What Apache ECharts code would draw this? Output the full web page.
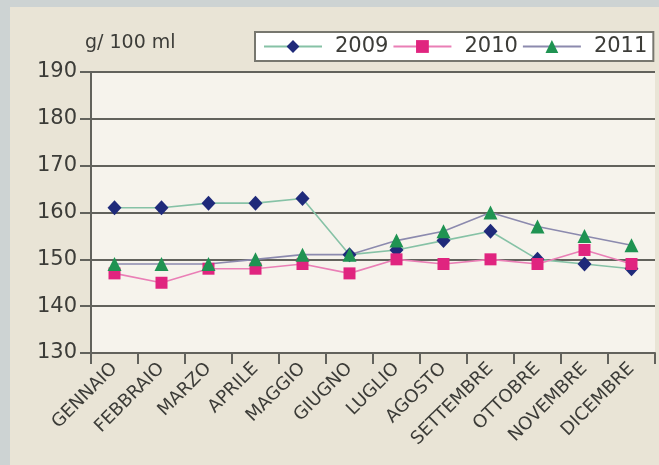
<!DOCTYPE html>
<html>
<head>
<meta charset="utf-8">
<script src="https://cdn.jsdelivr.net/npm/echarts@6/dist/echarts.min.js"></script>
<style>
  html, body { margin: 0; padding: 0; background: #cdd3d3; }
  #chart { width: 659px; height: 465px; }
</style>
</head>
<body>
<div id="chart"></div>
<script>
// Monthly values, g/100 ml
const months = ['GENNAIO', 'FEBBRAIO', 'MARZO', 'APRILE', 'MAGGIO', 'GIUGNO',
  'LUGLIO', 'AGOSTO', 'SETTEMBRE', 'OTTOBRE', 'NOVEMBRE', 'DICEMBRE'];
const values2009 = [161, 161, 162, 162, 163, 151, 152, 154, 156, 150, 149, 148];
const values2010 = [147, 145, 148, 148, 149, 147, 150, 149, 150, 149, 152, 149];
const values2011 = [149, 149, 149, 150, 151, 151, 154, 156, 160, 157, 155, 153];
const yMin = 130, yMax = 190, yStep = 10;
const unitLabel = 'g/ 100 ml';

const chart = echarts.init(document.getElementById('chart'));
const axisGrey = '#62625c';
const textGrey = '#3c3c38';
const font = 'DejaVu Sans';

function lineSeries(name, data, lineColor, symbol, symbolSize, markerColor) {
  return {
    name: name,
    type: 'line',
    data: data,
    symbol: symbol,
    symbolSize: symbolSize,
    lineStyle: { color: lineColor, width: 1.6 },
    itemStyle: { color: markerColor, borderWidth: 0 },
    emphasis: { disabled: true },
    animation: false
  };
}

chart.setOption({
  backgroundColor: '#cdd3d3',
  animation: false,
  graphic: [{
    type: 'rect',
    left: 10, top: 7,
    shape: { width: 660, height: 470 },
    style: { fill: '#e9e4d6' },
    z: -10
  }, {
    type: 'text',
    left: 85, top: 34,
    style: { text: unitLabel, font: '19px "DejaVu Sans"', fill: textGrey }
  }],
  grid: {
    left: 91, right: 4, top: 72, bottom: 112,
    show: true, backgroundColor: '#f6f3ec', borderWidth: 0
  },
  legend: {
    left: 255, top: 32,
    padding: [4, 6, 4, 8],
    itemGap: 4,
    itemWidth: 58,
    itemHeight: 16,
    backgroundColor: '#ffffff',
    borderColor: '#77776f',
    borderWidth: 2,
    borderRadius: 0,
    textStyle: { fontFamily: font, fontSize: 21, color: textGrey, padding: [0, 0, 0, 8] },
    data: ['2009', '2010', '2011']
  },
  xAxis: {
    type: 'category',
    data: months,
    boundaryGap: true,
    axisLine: { lineStyle: { color: axisGrey, width: 2 } },
    axisTick: { show: true, length: 11, lineStyle: { color: axisGrey, width: 2 } },
    axisLabel: {
      rotate: 45, interval: 0, margin: 13,
      fontFamily: font, fontSize: 18, color: textGrey
    },
    splitLine: { show: false }
  },
  yAxis: {
    type: 'value',
    min: yMin, max: yMax, interval: yStep,
    axisLine: { show: true, lineStyle: { color: axisGrey, width: 2 } },
    axisTick: { show: true, length: 11, lineStyle: { color: axisGrey, width: 2 } },
    axisLabel: { margin: 14, fontFamily: font, fontSize: 21, color: textGrey },
    splitLine: { show: true, lineStyle: { color: axisGrey, width: 2 } }
  },
  series: [
    lineSeries('2009', values2009, '#86c2a6', 'diamond', [14, 15], '#1f2a7a'),
    lineSeries('2010', values2010, '#ea7fb6', 'rect', 12, '#e0247f'),
    lineSeries('2011', values2011, '#8c8aae', 'triangle', [14, 14], '#1f9352')
  ]
});
</script>
</body>
</html>
